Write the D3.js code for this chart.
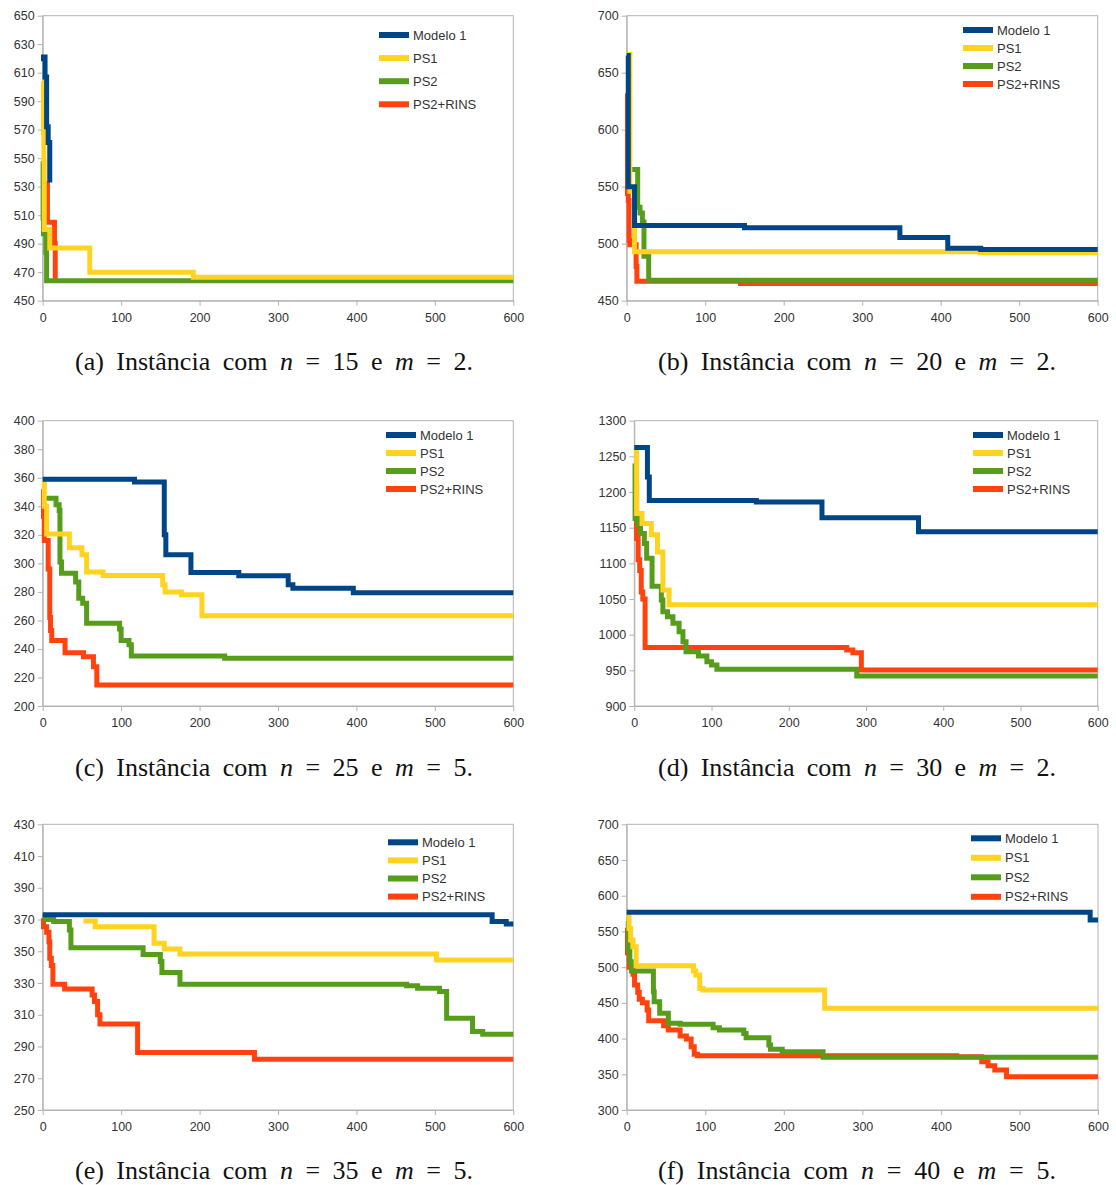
<!DOCTYPE html>
<html>
<head>
<meta charset="utf-8">
<script src="https://cdn.jsdelivr.net/npm/d3@7"></script>
<style>
  body { margin: 0; background: #fff; }
</style>
</head>
<body>
<svg id="fig" width="1116" height="1185"></svg>
<script>
// series names / colours (LibreOffice default palette)
var seriesNames = ["Modelo 1", "PS1", "PS2", "PS2+RINS"];
var seriesColors = ["#004586", "#ffd320", "#579d1c", "#ff420e"];

var xTicks = [0, 100, 200, 300, 400, 500, 600];

// (a) n=15, m=2
var yTicksA = [450, 470, 490, 510, 530, 550, 570, 590, 610, 630, 650];
var modelo1A = [[0,618],[1,621],[3,607],[5,572],[7,561],[9,533]];
var ps1A = [[0,604],[1,568],[1.5,548],[2,500],[9,487],[60,470],[192,466.5],[600,466.5]];
var ps2A = [[0,548],[0.5,508],[1,497],[4,484],[5,464],[600,464]];
var rinsA = [[3,532],[6,505],[15,490],[16,466],[19,466]];

// (b) n=20, m=2
var yTicksB = [450, 500, 550, 600, 650, 700];
var modelo1B = [[0,665],[2,550],[10,516],[150,514],[348,505.5],[409,496],[451,495],[600,495]];
var ps1B = [[0,666],[4,546],[10,493],[450,492],[600,492]];
var ps2B = [[0,636],[3,565],[14,532],[17,527],[20,519],[22,489],[28,468],[600,468]];
var rinsB = [[0,632],[1,544],[2,538],[3,503],[4,499],[12,480],[13,467],[145,465],[600,465]];

// (c) n=25, m=5
var yTicksC = [200, 220, 240, 260, 280, 300, 320, 340, 360, 380, 400];
var modelo1C = [[0,359],[117,357],[155,320],[157,306],[189,293.5],[250,291.3],[313,285],[319,282.5],[396,279.4],[600,279.4]];
var ps1C = [[0,358],[2,340],[5,320.5],[34,311],[50,306],[56,294],[77,291.4],[153,285],[156,280],[177,278],[203,263.3],[600,263.3]];
var ps2C = [[0,345.6],[17,341],[21,337],[22,301],[24,293],[42,287],[46,275.5],[51,272],[56,258],[98,254],[100,246],[110,243],[113,235],[232,233.4],[600,233.4]];
var rinsC = [[0,352],[1,333],[2,316],[7,296],[9,262],[10,253],[11.5,246],[28.5,237.4],[52,234.6],[64.7,227.6],[69,214.7],[600,214.7]];

// (d) n=30, m=2
var yTicksD = [900, 950, 1000, 1050, 1100, 1150, 1200, 1250, 1300];
var modelo1D = [[0,1262.6],[17,1221],[19.4,1188],[158,1186],[243,1164],[368,1144.4],[600,1144.4]];
var ps1D = [[0,1259],[3,1170],[10,1156],[22,1140],[30,1116],[37,1062.6],[45,1042],[600,1042]];
var ps2D = [[0,1240],[1,1163],[5,1154],[8,1142],[13,1128],[16,1107],[23,1068],[35,1048.6],[37,1032],[43,1025],[50,1016],[58,1004],[63,990],[67,976],[83,970],[94,962],[100,957.5],[107,951.4],[288,942],[600,942]];
var rinsD = [[2,1207],[3,1135],[5,1105],[7,1090],[9,1060],[11,1050],[14,982],[275,978.5],[283,974.7],[294,950.5],[600,950.5]];

// (e) n=35, m=5
var yTicksE = [250, 270, 290, 310, 330, 350, 370, 390, 410, 430];
var modelo1E = [[0,373],[573,368.7],[591,367.2],[600,367.2]];
var ps1E = [[52,369],[67,365.5],[142,355],[155,351.4],[175,348.3],[502,344.5],[600,344.5]];
var ps2E = [[0,370],[14,368.7],[34,363.4],[36,352.3],[128,348],[150,343.5],[152,336.7],[175,329.2],[464,328.3],[478,326.7],[506,324.6],[515,307.8],[548,299.4],[561,297.7],[600,297.7]];
var rinsE = [[0,370.8],[1,365.5],[5,362],[8,356],[9,345.6],[11,341],[13,329.2],[28,326.2],[63,322.5],[66,318.3],[70,310],[73,304.2],[121,286.3],[270,282],[600,282]];

// (f) n=40, m=5
var yTicksF = [300, 350, 400, 450, 500, 550, 600, 650, 700];
var modelo1F = [[0,577],[590,566],[600,566]];
var ps1F = [[0,575],[3,554],[5,538],[8,528.7],[12,502],[85,494.6],[88,489],[93,470],[97,468],[252,442.4],[600,442.4]];
var ps2F = [[0,564.6],[2,524],[4,507.7],[6,494.6],[34,465.7],[35,451.7],[42,435.4],[53,421.4],[68,420],[110,415.3],[118,412],[149,407],[152,401.3],[181,391],[183,385],[198,381.7],[250,374],[600,374]];
var rinsF = [[0,555],[1,520],[3,500],[8,490],[10,475],[14,465],[16,455],[20,450],[26,440],[28,425],[47,418],[53,412],[68,403.6],[76,399.4],[82,388.7],[86,378],[90,376],[420,374.5],[452,367.6],[460,362],[468.6,356],[483.5,346.7],[600,346.7]];

var captionLetters = ["a", "b", "c", "d", "e", "f"];
var captionN = [15, 20, 25, 30, 35, 40];
var captionM = [2, 2, 5, 2, 5, 5];

var panels = [
  { yDomain: [450, 650], yTicks: yTicksA, series: [modelo1A, ps1A, ps2A, rinsA] },
  { yDomain: [450, 700], yTicks: yTicksB, series: [modelo1B, ps1B, ps2B, rinsB] },
  { yDomain: [200, 400], yTicks: yTicksC, series: [modelo1C, ps1C, ps2C, rinsC] },
  { yDomain: [900, 1300], yTicks: yTicksD, series: [modelo1D, ps1D, ps2D, rinsD] },
  { yDomain: [250, 430], yTicks: yTicksE, series: [modelo1E, ps1E, ps2E, rinsE] },
  { yDomain: [300, 700], yTicks: yTicksF, series: [modelo1F, ps1F, ps2F, rinsF] }
];

// pixel layout of each panel
var layout = [
  { x0: 42.7, x1: 513.3, y0: 15.7, y1: 300.7, lx: 379, ly: 35, ldy: 23.1, cx: 274, cy: 370 },
  { x0: 626.7, x1: 1097.7, y0: 15.7, y1: 300.7, lx: 963, ly: 30, ldy: 18, cx: 857, cy: 370 },
  { x0: 42.7, x1: 513.3, y0: 420.7, y1: 706, lx: 386, ly: 435, ldy: 18, cx: 274, cy: 776 },
  { x0: 634.3, x1: 1097.7, y0: 420.7, y1: 706, lx: 973, ly: 435, ldy: 18, cx: 857, cy: 776 },
  { x0: 42.7, x1: 513.3, y0: 824.3, y1: 1110, lx: 388, ly: 842.3, ldy: 18.1, cx: 274, cy: 1179 },
  { x0: 626.7, x1: 1098, y0: 824.3, y1: 1110, lx: 971, ly: 838.3, ldy: 19.5, cx: 857, cy: 1179 }
];

var svg = d3.select("#fig");
var gridColor = "#b3b3b3";
var textColor = "#333";

panels.forEach(function (p, i) {
  var L = layout[i];
  var x = d3.scaleLinear().domain([0, 600]).range([L.x0, L.x1]);
  var y = d3.scaleLinear().domain(p.yDomain).range([L.y1, L.y0]);
  var g = svg.append("g");

  // frame
  g.append("rect")
    .attr("x", L.x0).attr("y", L.y0)
    .attr("width", L.x1 - L.x0).attr("height", L.y1 - L.y0)
    .attr("fill", "none").attr("stroke", gridColor).attr("stroke-width", 1);

  var yAxis = g.append("g")
    .attr("transform", "translate(" + L.x0 + ",0)")
    .call(d3.axisLeft(y).tickValues(p.yTicks).tickFormat(d3.format("d"))
      .tickSize(5).tickPadding(3).tickSizeOuter(0));
  var xAxis = g.append("g")
    .attr("transform", "translate(0," + L.y1 + ")")
    .call(d3.axisBottom(x).tickValues(xTicks).tickSize(5).tickPadding(7).tickSizeOuter(0));
  [xAxis, yAxis].forEach(function (a) {
    a.selectAll("path,line").attr("stroke", gridColor);
    a.selectAll("text")
      .attr("fill", textColor)
      .style("font-family", "'Liberation Sans', Arial, sans-serif")
      .style("font-size", "12.5px");
  });

  var line = d3.line()
    .x(function (d) { return x(d[0]); })
    .y(function (d) { return y(d[1]); })
    .curve(d3.curveStepAfter);

  // drawn back to front so that Modelo 1 sits on top
  for (var s = p.series.length - 1; s >= 0; s--) {
    g.append("path")
      .datum(p.series[s])
      .attr("d", line)
      .attr("fill", "none")
      .attr("stroke", seriesColors[s])
      .attr("stroke-width", 5)
      .attr("stroke-linejoin", "miter");
  }

  // legend
  seriesNames.forEach(function (name, k) {
    var yy = L.ly + k * L.ldy;
    g.append("line")
      .attr("x1", L.lx).attr("x2", L.lx + 30)
      .attr("y1", yy).attr("y2", yy)
      .attr("stroke", seriesColors[k]).attr("stroke-width", 6);
    g.append("text")
      .attr("x", L.lx + 34).attr("y", yy)
      .attr("dy", "0.35em")
      .attr("fill", textColor)
      .style("font-family", "'Liberation Sans', Arial, sans-serif")
      .style("font-size", "13px")
      .text(name);
  });

  // caption
  var cap = svg.append("text")
    .attr("x", L.cx).attr("y", L.cy)
    .attr("text-anchor", "middle")
    .attr("fill", "#111")
    .style("font-family", "'Liberation Serif', 'DejaVu Serif', serif")
    .style("font-size", "26px");
  cap.append("tspan").text("(" + captionLetters[i] + ") Instância com ");
  cap.append("tspan").style("font-style", "italic").text("n");
  cap.append("tspan").text(" = " + captionN[i] + " e ");
  cap.append("tspan").style("font-style", "italic").text("m");
  cap.append("tspan").text(" = " + captionM[i] + ".");
  // widen the word gaps so the caption spans about as wide as the original
  var w = cap.node().getComputedTextLength();
  cap.style("word-spacing", Math.max(0, (398 - w) / 9) + "px");
});
</script>
</body>
</html>
